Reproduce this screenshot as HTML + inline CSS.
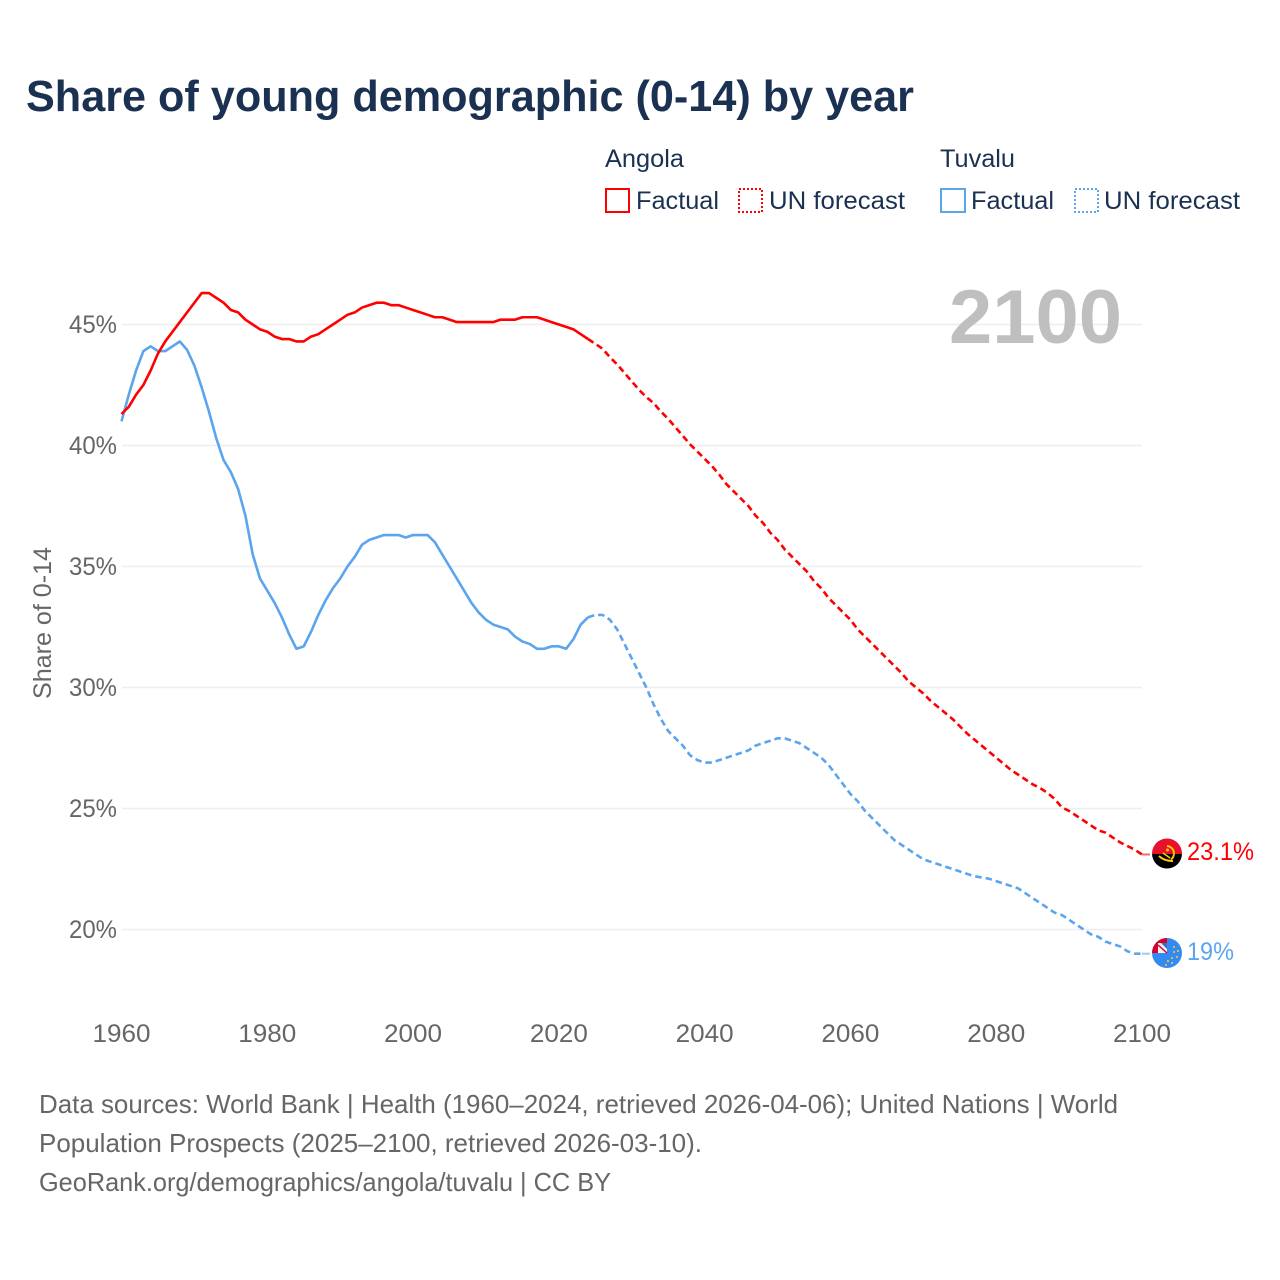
<!DOCTYPE html>
<html>
<head>
<meta charset="utf-8">
<title>Share of young demographic (0-14) by year</title>
<style>
html,body{margin:0;padding:0;background:#fff;}
svg{display:block;font-family:"Liberation Sans",sans-serif;}
</style>
</head>
<body>
<svg id="chart" xmlns="http://www.w3.org/2000/svg" width="1280" height="1280" viewBox="0 0 1280 1280">
  <defs>
    <clipPath id="flag-clip-a"><circle cx="1167" cy="853.5" r="15"/></clipPath>
    <clipPath id="flag-clip-t"><circle cx="1167" cy="953" r="15"/></clipPath>
  </defs>
  <rect width="1280" height="1280" fill="#fff"/>
  <text x="26" y="111" font-size="44" font-weight="700" fill="#1a3152" textLength="888" lengthAdjust="spacingAndGlyphs">Share of young demographic (0-14) by year</text>

  <text x="605" y="167" font-size="25" fill="#1a3152" textLength="79" lengthAdjust="spacingAndGlyphs">Angola</text>
  <text x="940" y="167" font-size="25" fill="#1a3152" textLength="75" lengthAdjust="spacingAndGlyphs">Tuvalu</text>

  <rect x="606" y="189" width="23" height="23" fill="none" stroke="#ff0000" stroke-width="2" shape-rendering="crispEdges"/>
  <text x="636" y="209" font-size="25" fill="#1a3152" textLength="83" lengthAdjust="spacingAndGlyphs">Factual</text>
  <rect x="739" y="189" width="23" height="23" fill="none" stroke="#ff0000" stroke-width="2" stroke-dasharray="2 2" shape-rendering="crispEdges"/>
  <text x="769" y="209" font-size="25" fill="#1a3152" textLength="136" lengthAdjust="spacingAndGlyphs">UN forecast</text>

  <rect x="941" y="189" width="24" height="23" fill="none" stroke="#5ba4ee" stroke-width="2" shape-rendering="crispEdges"/>
  <text x="971" y="209" font-size="25" fill="#1a3152" textLength="83" lengthAdjust="spacingAndGlyphs">Factual</text>
  <rect x="1075" y="189" width="23" height="23" fill="none" stroke="#5ba4ee" stroke-width="2" stroke-dasharray="2 2" shape-rendering="crispEdges"/>
  <text x="1104" y="209" font-size="25" fill="#1a3152" textLength="136" lengthAdjust="spacingAndGlyphs">UN forecast</text>

  <g id="grid"></g>
  <g id="y-ticks"></g>
  <g id="x-ticks"></g>
  <text transform="translate(51,699) rotate(-90)" font-size="25" fill="#666" textLength="152" lengthAdjust="spacingAndGlyphs">Share of 0-14</text>
  <text x="949" y="343" font-size="76" font-weight="700" fill="#bfbfbf" textLength="173" lengthAdjust="spacingAndGlyphs">2100</text>

  <g id="series"></g>

  <g clip-path="url(#flag-clip-a)">
    <rect x="1152" y="838" width="30" height="16" fill="#e8112d"/>
    <rect x="1152" y="854" width="30" height="16" fill="#000"/>
    <path d="M1167 846a7.5 7.5 0 0 1 4 13.5" fill="none" stroke="#ffcb00" stroke-width="2"/>
    <path d="M1159 856q5 5 14 5" fill="none" stroke="#ffcb00" stroke-width="2"/>
    <path d="M1163 853l7 5" stroke="#ffcb00" stroke-width="1.5"/>
    <circle cx="1167.5" cy="850" r="1.5" fill="#ffcb00"/>
  </g>
  <g clip-path="url(#flag-clip-t)">
    <rect x="1152" y="938" width="30" height="30" fill="#338af3"/>
    <rect x="1152" y="938" width="15" height="15" fill="#d80027"/>
    <rect x="1158" y="943" width="9" height="10" fill="#f4f4f8"/>
    <path d="M1161 943h6v6z" fill="#3a6fc4"/>
    <path d="M1158 945l9 8" stroke="#d80027" stroke-width="1.5"/>
    <g fill="#e4c04a">
      <circle cx="1174" cy="947" r="1.1"/><circle cx="1178" cy="951" r="1.1"/><circle cx="1174" cy="952" r="1.1"/>
      <circle cx="1177" cy="957" r="1.1"/><circle cx="1172" cy="958" r="1.1"/><circle cx="1168" cy="961" r="1.1"/>
      <circle cx="1172" cy="963" r="1.1"/><circle cx="1166" cy="965" r="1.1"/>
    </g>
  </g>
  <text x="1187" y="860" font-size="25" fill="#ff0000" textLength="67" lengthAdjust="spacingAndGlyphs">23.1%</text>
  <text x="1187" y="960" font-size="25" fill="#5ba4ee" textLength="47" lengthAdjust="spacingAndGlyphs">19%</text>

  <text x="39" y="1113" font-size="26" fill="#666" textLength="1079" lengthAdjust="spacingAndGlyphs">Data sources: World Bank | Health (1960–2024, retrieved 2026-04-06); United Nations | World</text>
  <text x="39" y="1152" font-size="26" fill="#666" textLength="663" lengthAdjust="spacingAndGlyphs">Population Prospects (2025–2100, retrieved 2026-03-10).</text>
  <text x="39" y="1191" font-size="26" fill="#666" textLength="572" lengthAdjust="spacingAndGlyphs">GeoRank.org/demographics/angola/tuvalu | CC BY</text>
</svg>
<script>
const firstYear = 1960;
const lastFactualYear = 2024;
const xTickLabels = [1960, 1980, 2000, 2020, 2040, 2060, 2080, 2100];
const yTickLabels = [20, 25, 30, 35, 40, 45];
const angolaValues = [
41.3,41.6,42.1,42.5,43.1,43.8,44.3,44.7,45.1,45.5,45.9,46.3,46.3,46.1,45.9,45.6,45.5,45.2,45.0,44.8,
44.7,44.5,44.4,44.4,44.3,44.3,44.5,44.6,44.8,45.0,45.2,45.4,45.5,45.7,45.8,45.9,45.9,45.8,45.8,45.7,
45.6,45.5,45.4,45.3,45.3,45.2,45.1,45.1,45.1,45.1,45.1,45.1,45.2,45.2,45.2,45.3,45.3,45.3,45.2,45.1,
45.0,44.9,44.8,44.6,44.4,44.2,44.0,43.65,43.35,43.0,42.65,42.3,42.0,41.75,41.4,41.1,40.75,40.4,40.05,39.75,
39.45,39.15,38.8,38.4,38.1,37.8,37.5,37.1,36.8,36.4,36.1,35.7,35.4,35.1,34.8,34.4,34.1,33.7,33.4,33.1,
32.8,32.4,32.1,31.8,31.5,31.2,30.9,30.6,30.25,30.0,29.75,29.45,29.2,28.95,28.7,28.4,28.1,27.85,27.6,27.35,
27.1,26.85,26.6,26.4,26.2,26.0,25.85,25.65,25.4,25.05,24.9,24.7,24.5,24.3,24.1,24.0,23.8,23.6,23.45,23.3,23.1
];
const tuvaluValues = [
41.0,42.1,43.1,43.9,44.1,43.9,43.9,44.1,44.3,43.95,43.3,42.4,41.4,40.3,39.4,38.9,38.2,37.1,35.5,34.5,
34.0,33.5,32.9,32.2,31.6,31.7,32.3,33.0,33.6,34.1,34.5,35.0,35.4,35.9,36.1,36.2,36.3,36.3,36.3,36.2,
36.3,36.3,36.3,36.0,35.5,35.0,34.5,34.0,33.5,33.1,32.8,32.6,32.5,32.4,32.1,31.9,31.8,31.6,31.6,31.7,
31.7,31.6,32.0,32.6,32.9,33.0,33.0,32.8,32.4,31.8,31.2,30.6,30.0,29.3,28.7,28.2,27.9,27.6,27.2,27.0,
26.9,26.9,27.0,27.1,27.2,27.3,27.4,27.6,27.7,27.8,27.9,27.9,27.8,27.7,27.5,27.3,27.1,26.8,26.4,26.0,
25.6,25.3,24.9,24.6,24.3,24.0,23.7,23.5,23.3,23.1,22.9,22.8,22.7,22.6,22.5,22.4,22.3,22.2,22.15,22.1,
22.0,21.9,21.8,21.7,21.5,21.3,21.1,20.9,20.7,20.6,20.4,20.2,20.0,19.8,19.7,19.5,19.4,19.3,19.1,19.0,19.0
];

const NS = 'http://www.w3.org/2000/svg';
const x = function (year) { return 121.5 + (year - 1960) * (1142 - 121.5) / 140; };
const y = function (value) { return 324.5 + (45 - value) * 24.2; };

const grid = document.getElementById('grid');
const yTicks = document.getElementById('y-ticks');
const xTicks = document.getElementById('x-ticks');
const seriesGroup = document.getElementById('series');

yTickLabels.forEach(function (v) {
  const line = document.createElementNS(NS, 'line');
  
  
  line.setAttribute('x1', 122);
  line.setAttribute('x2', 1142);
  line.setAttribute('y1', y(v));
  line.setAttribute('y2', y(v));
  line.setAttribute('stroke', '#eeeeee');
  line.setAttribute('stroke-width', '1.5');
  grid.appendChild(line);

  const label = document.createElementNS(NS, 'text');
  
  
  label.setAttribute('x', 117);
  label.setAttribute('y', y(v) + 8.5);
  label.setAttribute('text-anchor', 'end');
  label.setAttribute('font-size', '25');
  label.setAttribute('fill', '#666');
  label.setAttribute('textLength', '48');
  label.setAttribute('lengthAdjust', 'spacingAndGlyphs');
  label.textContent = v + '%';
  yTicks.appendChild(label);
});

xTickLabels.forEach(function (t) {
  const label = document.createElementNS(NS, 'text');
  
  
  label.setAttribute('x', x(t));
  label.setAttribute('y', 1042);
  label.setAttribute('text-anchor', 'middle');
  label.setAttribute('font-size', '25');
  label.setAttribute('fill', '#666');
  label.setAttribute('textLength', '58');
  label.setAttribute('lengthAdjust', 'spacingAndGlyphs');
  label.textContent = t;
  xTicks.appendChild(label);
});

function points(values, fromYear, toYear) {
  const out = [];
  for (let yr = fromYear; yr <= toYear; yr++) {
    out.push(x(yr).toFixed(2) + ',' + y(values[yr - firstYear]).toFixed(2));
  }
  return out.join(' ');
}

function makeLine(pts, color, dash) {
  const line = document.createElementNS(NS, 'polyline');
  line.setAttribute('points', pts);
  line.setAttribute('fill', 'none');
  line.setAttribute('stroke', color);
  line.setAttribute('stroke-width', '2.6');
  line.setAttribute('stroke-linejoin', 'round');
  if (dash) line.setAttribute('stroke-dasharray', dash);
  seriesGroup.appendChild(line);
  return line;
}

const lastYear = firstYear + angolaValues.length - 1;

const tuvaluFactual = makeLine(points(tuvaluValues, firstYear, lastFactualYear), '#5ba4ee', null);


const tuvaluForecast = makeLine(points(tuvaluValues, lastFactualYear, lastYear), '#5ba4ee', '6.5 4');


const angolaFactual = makeLine(points(angolaValues, firstYear, lastFactualYear), '#ff0000', null);


const angolaForecast = makeLine(points(angolaValues, lastFactualYear, lastYear), '#ff0000', '6.5 4');



const angolaEnd = y(angolaValues[angolaValues.length - 1]);
const angolaConnector = makeLine(x(lastYear) + ',' + angolaEnd + ' 1150,' + angolaEnd, '#ff6666', null);


angolaConnector.setAttribute('stroke-width', '2');
const tuvaluEnd = y(tuvaluValues[tuvaluValues.length - 1]);
const tuvaluConnector = makeLine(x(lastYear) + ',' + tuvaluEnd + ' 1150,' + tuvaluEnd, '#9cc8f5', null);


tuvaluConnector.setAttribute('stroke-width', '2');
</script>
</body>
</html>
